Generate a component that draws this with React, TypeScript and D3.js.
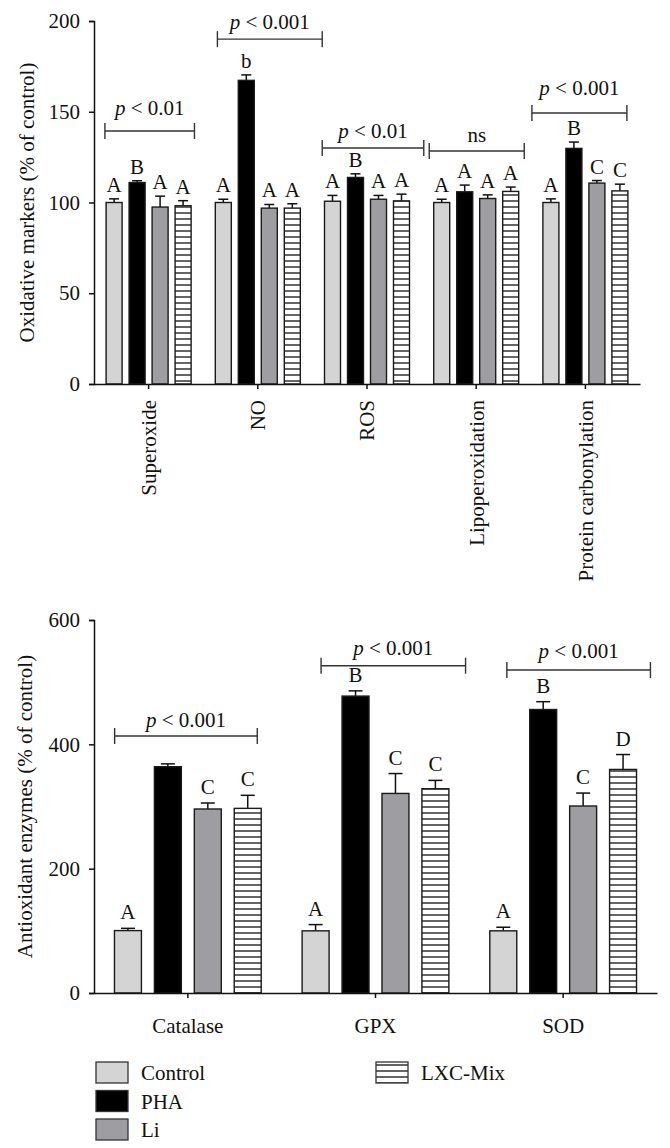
import React, { useEffect, useRef } from 'react';
import * as d3 from 'd3';

// groups (same order in both panels)
const seriesNames = ['Control', 'PHA', 'Li', 'LXC-Mix'];

// top panel: oxidative markers (% of control)
const oxCategories = ['Superoxide', 'NO', 'ROS', 'Lipoperoxidation', 'Protein carbonylation'];
const oxControl = [100, 100, 100.7, 100, 100];
const oxPHA = [111, 167.3, 113.8, 105.9, 129.8];
const oxLi = [97.5, 96.9, 101.8, 102.2, 110.7];
const oxMix = [98.2, 96.9, 100.9, 106.1, 106.4];
const oxControlErr = [2, 1.8, 3.2, 1.8, 2];
const oxPHAErr = [1, 3, 2, 3.7, 3.5];
const oxLiErr = [6, 2, 2.1, 2, 1.4];
const oxMixErr = [2.8, 2.4, 3.7, 2.4, 3.7];
const oxLetters = [
  ['A', 'B', 'A', 'A'],
  ['A', 'b', 'A', 'A'],
  ['A', 'B', 'A', 'A'],
  ['A', 'A', 'A', 'A'],
  ['A', 'B', 'C', 'C'],
];
const oxTicks = [0, 50, 100, 150, 200];
const oxStats = ['p < 0.01', 'p < 0.001', 'p < 0.01', 'ns', 'p < 0.001'];
const oxStatLevel = [139.4, 190, 130, 128.4, 149.3];
const oxStatTextLevel = [148.2, 195.6, 135.5, 133.3, 159.2];
const oxStatSpan = [[0.1, 0.92], [0.13, 1.09], [0.09, 1.02], [0.07, 0.94], [0.01, 0.88]];

// bottom panel: antioxidant enzymes (% of control)
const enzCategories = ['Catalase', 'GPX', 'SOD'];
const enzControl = [100.4, 100, 100];
const enzPHA = [364, 477.6, 456];
const enzLi = [296, 321, 300.8];
const enzMix = [297, 328.6, 359.6];
const enzControlErr = [3.6, 10, 5.8];
const enzPHAErr = [4.6, 8.4, 12.6];
const enzLiErr = [9.6, 32, 20.8];
const enzMixErr = [21, 13.4, 24];
const enzLetters = [
  ['A', '', 'C', 'C'],
  ['A', 'B', 'C', 'C'],
  ['A', 'B', 'C', 'D'],
];
const enzTicks = [0, 200, 400, 600];
const enzStats = ['p < 0.001', 'p < 0.001', 'p < 0.001'];
const enzStatLevel = [413.4, 526.5, 519.5];
const enzStatTextLevel = [428, 543.7, 539];
const enzStatSpan = [[0.11, 0.87], [0.21, 0.98], [0.2, 0.965]];

const FONT = '"Liberation Serif", "Times New Roman", serif';
const FS = '21px';
const fills = ['#d4d4d4', '#000000', '#9e9ea2', 'url(#hstripes)'];

type Panel = {
  categories: string[];
  means: number[][];
  errs: number[][];
  letters: string[][];
  ticks: number[];
  stats: string[];
  statLevel: number[];
  statTextLevel: number[];
  statSpan: number[][];
  title: string;
  x0: number; x1: number; yTop: number; yBottom: number; max: number;
  padInner: number; padOuter: number; capW: number; letterGap: number;
  rotateLabels: boolean; titleX: number;
};

const App: React.FC = () => {
  const ref = useRef<SVGSVGElement>(null);

  useEffect(() => {
    if (!ref.current) return;
    const svg = d3.select(ref.current);
    svg.selectAll('*').remove();

    const defs = svg.append('defs');
    const pat = defs.append('pattern')
      .attr('id', 'hstripes')
      .attr('patternUnits', 'userSpaceOnUse')
      .attr('width', 8)
      .attr('height', 6);
    pat.append('rect').attr('width', 8).attr('height', 6).attr('fill', '#fff');
    pat.append('line')
      .attr('x1', 0).attr('x2', 8).attr('y1', 3).attr('y2', 3)
      .attr('stroke', '#111').attr('stroke-width', 1.3);

    const drawPanel = (p: Panel) => {
      const g = svg.append('g');
      const x = d3.scaleBand().domain(p.categories).range([p.x0, p.x1]).padding(0);
      const xi = d3.scaleBand().domain(seriesNames).range([0, x.bandwidth()])
        .paddingInner(p.padInner).paddingOuter(p.padOuter);
      const y = d3.scaleLinear().domain([0, p.max]).range([p.yBottom, p.yTop]);

      // bars, error bars and letters
      p.categories.forEach((cat, ci) => {
        seriesNames.forEach((s, si) => {
          const v = p.means[si][ci];
          const e = p.errs[si][ci];
          const bx = (x(cat) as number) + (xi(s) as number);
          const bw = xi.bandwidth();
          const cx = bx + bw / 2;
          g.append('line')
            .attr('x1', cx).attr('x2', cx)
            .attr('y1', y(v)).attr('y2', y(v + e))
            .attr('stroke', '#111').attr('stroke-width', 1.5);
          g.append('line')
            .attr('x1', cx - p.capW / 2).attr('x2', cx + p.capW / 2)
            .attr('y1', y(v + e)).attr('y2', y(v + e))
            .attr('stroke', '#111').attr('stroke-width', 1.5);
          g.append('rect')
            .attr('x', bx).attr('y', y(v))
            .attr('width', bw).attr('height', y(0) - y(v))
            .attr('fill', fills[si])
            .attr('stroke', '#1a1a1a').attr('stroke-width', 1.4);
          const lab = p.letters[ci][si];
          if (lab) {
            g.append('text')
              .attr('x', cx).attr('y', y(v + e) - p.letterGap)
              .attr('text-anchor', 'middle')
              .style('font-family', FONT).style('font-size', FS).style('fill', '#111')
              .text(lab);
          }
        });

        // significance bracket
        const bx0 = (x(cat) as number) + p.statSpan[ci][0] * x.bandwidth();
        const bx1 = (x(cat) as number) + p.statSpan[ci][1] * x.bandwidth();
        const by = y(p.statLevel[ci]);
        const br = g.append('g').attr('stroke', '#333').attr('stroke-width', 1.4);
        br.append('line').attr('x1', bx0).attr('x2', bx1).attr('y1', by).attr('y2', by);
        br.append('line').attr('x1', bx0).attr('x2', bx0).attr('y1', by - 8).attr('y2', by + 8);
        br.append('line').attr('x1', bx1).attr('x2', bx1).attr('y1', by - 8).attr('y2', by + 8);
        const t = g.append('text')
          .attr('x', (bx0 + bx1) / 2).attr('y', y(p.statTextLevel[ci]))
          .attr('text-anchor', 'middle')
          .style('font-family', FONT).style('font-size', FS).style('fill', '#111');
        const txt = p.stats[ci];
        if (txt.startsWith('p')) {
          t.append('tspan').style('font-style', 'italic').text('p');
          t.append('tspan').text(txt.slice(1));
        } else {
          t.text(txt);
        }
      });

      // axes
      const yAxis = g.append('g')
        .attr('transform', `translate(${p.x0},0)`)
        .call(d3.axisLeft(y).tickValues(p.ticks).tickSize(5).tickPadding(9).tickFormat(d3.format('d')));
      yAxis.select('.domain').attr('stroke', '#111').attr('stroke-width', 1.5);
      yAxis.selectAll('.tick line').attr('stroke', '#111').attr('stroke-width', 1.5);
      yAxis.selectAll('.tick text')
        .style('font-family', FONT).style('font-size', FS).attr('fill', '#111');

      const xAxis = g.append('g')
        .attr('transform', `translate(0,${p.yBottom})`)
        .call(d3.axisBottom(x).tickSize(5).tickSizeOuter(0).tickPadding(p.rotateLabels ? 14 : 12));
      xAxis.select('.domain').attr('stroke', '#111').attr('stroke-width', 1.5);
      xAxis.selectAll('.tick line').attr('stroke', '#111').attr('stroke-width', 1.5);
      const xt = xAxis.selectAll('.tick text')
        .style('font-family', FONT).style('font-size', FS).attr('fill', '#111');
      if (p.rotateLabels) {
        xt.attr('transform', 'rotate(-90)')
          .attr('text-anchor', 'end')
          .attr('x', -16).attr('y', 0).attr('dy', '0.35em');
      } else {
        xt.attr('dy', '1.1em');
      }

      g.append('text')
        .attr('transform', `translate(${p.titleX},${(p.yTop + p.yBottom) / 2}) rotate(-90)`)
        .attr('text-anchor', 'middle')
        .attr('dy', '0.35em')
        .style('font-family', FONT).style('font-size', '21px').style('fill', '#111')
        .text(p.title);
    };

    drawPanel({
      categories: oxCategories,
      means: [oxControl, oxPHA, oxLi, oxMix],
      errs: [oxControlErr, oxPHAErr, oxLiErr, oxMixErr],
      letters: oxLetters,
      ticks: oxTicks,
      stats: oxStats,
      statLevel: oxStatLevel,
      statTextLevel: oxStatTextLevel,
      statSpan: oxStatSpan,
      title: 'Oxidative markers (% of control)',
      x0: 94, x1: 640, yTop: 21, yBottom: 384, max: 200,
      padInner: 0.304, padOuter: 0.526, capW: 10, letterGap: 7,
      rotateLabels: true, titleX: 27,
    });

    drawPanel({
      categories: enzCategories,
      means: [enzControl, enzPHA, enzLi, enzMix],
      errs: [enzControlErr, enzPHAErr, enzLiErr, enzMixErr],
      letters: enzLetters,
      ticks: enzTicks,
      stats: enzStats,
      statLevel: enzStatLevel,
      statTextLevel: enzStatTextLevel,
      statSpan: enzStatSpan,
      title: 'Antioxidant enzymes (% of control)',
      x0: 94, x1: 657, yTop: 620, yBottom: 993, max: 600,
      padInner: 0.325, padOuter: 0.5125, capW: 14, letterGap: 9,
      rotateLabels: false, titleX: 25,
    });

    // legend: three rows in the first column, the rest in the second
    const legend = svg.append('g');
    seriesNames.forEach((s, i) => {
      const col = i < 3 ? 0 : 1;
      const row = i < 3 ? i : i - 3;
      const lx = col === 0 ? 96 : 376;
      const ly = 1062 + row * 28.5;
      legend.append('rect')
        .attr('x', lx).attr('y', ly)
        .attr('width', 32).attr('height', 21)
        .attr('fill', fills[i])
        .attr('stroke', '#333').attr('stroke-width', 1.3);
      legend.append('text')
        .attr('x', lx + 45).attr('y', ly + 18)
        .style('font-family', FONT).style('font-size', FS).style('fill', '#111')
        .text(s);
    });
  }, []);

  return (
    <svg
      ref={ref}
      width={670}
      height={1148}
      style={{ position: 'absolute', left: 0, top: 0, background: '#fff' }}
    />
  );
};

export default App;
